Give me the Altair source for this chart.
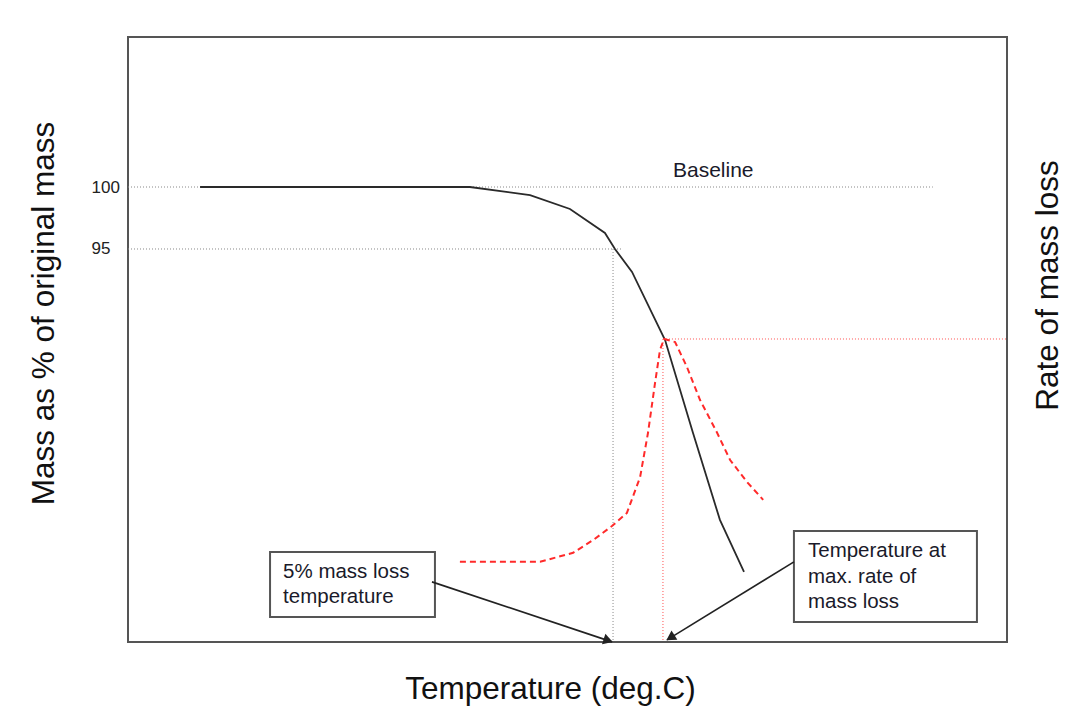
import altair as alt
import pandas as pd

FONT = "Liberation Sans"

# ---- data (temperature units are arbitrary, 0..500 across the frame) ----
mass_T = [41.0, 190.0, 194.5, 228.7, 251.4, 271.3, 277.0, 286.7, 305.5, 321.4, 336.7, 350.4]
mass_pct = [100.0, 100.0, 100.0, 99.35, 98.23, 96.29, 95.0, 93.15, 87.66, 80.16, 73.15, 68.95]

rate_T = [188.8, 234.4, 253.2, 264.5, 275.3, 283.8, 291.3, 295.8, 299.8, 302.6, 304.9,
          311.2, 318.0, 325.4, 335.1, 342.5, 352.2, 361.3]
rate_val = [1.59, 1.59, 1.77, 2.02, 2.30, 2.56, 3.27, 4.15, 5.14, 5.79, 6.01,
            5.95, 5.45, 4.80, 4.15, 3.61, 3.17, 2.82]

# dotted guide lines on the mass scale: (x, x2, y, y2)
guide_x = [0.0, 0.0, 275.9]
guide_x2 = [457.8, 281.0, 275.9]
guide_y = [100.0, 95.0, 95.0]
guide_y2 = [100.0, 95.0, 63.3]

# red dotted guide lines on the rate scale
rguide_x = [304.3, 304.3]
rguide_x2 = [500.0, 304.3]
rguide_y = [6.01, 6.01]
rguide_y2 = [6.01, 0.0]

# annotation boxes (mass scale)
box_x = [80.8, 378.8]
box_x2 = [174.6, 482.9]
box_y = [70.56, 72.26]
box_y2 = [65.32, 64.92]

# annotation text lines
box_lines = ["5% mass loss", "temperature", "Temperature at", "max. rate of", "mass loss"]
box_text_x = [88.2, 88.2, 386.8, 386.8, 386.8]
box_text_y = [68.47, 66.45, 70.16, 68.06, 66.05]
baseline_label = ["Baseline"]
baseline_x = [310.0]
baseline_y = [100.81]

# arrows
arrow_x = [172.9, 378.8]
arrow_x2 = [275.3, 306.6]
arrow_y = [68.15, 69.76]
arrow_y2 = [63.31, 63.47]
head_x = [272.3, 309.3]
head_y = [63.46, 63.72]
head_angle = [108, 238]

X_DOM = [0, 500]
M_DOM = [63.3, 112.1]
R_DOM = [0, 12]

x_axis = alt.Axis(labels=False, ticks=False, domain=False, grid=False,
                  title="Temperature (deg.C)", titleFont=FONT, titleFontSize=31.5,
                  titleFontWeight="normal", titleColor="#111",
                  titleX=422, titleY=56, titleAlign="center", titleBaseline="alphabetic")
m_axis = alt.Axis(values=[95, 100], ticks=False, tickSize=0, domain=False, grid=False,
                  labelFont=FONT, labelFontSize=17, labelColor="#222",
                  labelAlign="left", labelPadding=37, labelBaseline="middle",
                  title="Mass as % of original mass", titleFont=FONT, titleFontSize=31.5,
                  titleFontWeight="normal", titleColor="#111", titleAngle=270,
                  titleX=-75, titleY=276, titleAlign="center", titleBaseline="alphabetic")
r_axis = alt.Axis(orient="right", labels=False, ticks=False, domain=False, grid=False,
                  title="Rate of mass loss", titleFont=FONT, titleFontSize=31.5,
                  titleFontWeight="normal", titleColor="#111", titleAngle=270,
                  titleX=50, titleY=248, titleAlign="center", titleBaseline="alphabetic")

X = lambda f="x": alt.X(f"{f}:Q", scale=alt.Scale(domain=X_DOM, nice=False, zero=False), axis=x_axis)
YM = lambda f="y": alt.Y(f"{f}:Q", scale=alt.Scale(domain=M_DOM, nice=False, zero=False), axis=m_axis)
YR = lambda f="y": alt.Y(f"{f}:Q", scale=alt.Scale(domain=R_DOM, nice=False, zero=False), axis=r_axis)

guides = pd.DataFrame({"x": guide_x, "x2": guide_x2, "y": guide_y, "y2": guide_y2})
rguides = pd.DataFrame({"x": rguide_x, "x2": rguide_x2, "y": rguide_y, "y2": rguide_y2})
mass = pd.DataFrame({"x": mass_T, "y": mass_pct})
rate = pd.DataFrame({"x": rate_T, "y": rate_val})
boxes = pd.DataFrame({"x": box_x, "x2": box_x2, "y": box_y, "y2": box_y2})
box_texts = pd.DataFrame({"x": box_text_x, "y": box_text_y, "t": box_lines})
base_text = pd.DataFrame({"x": baseline_x, "y": baseline_y, "t": baseline_label})
arrows = pd.DataFrame({"x": arrow_x, "x2": arrow_x2, "y": arrow_y, "y2": arrow_y2})
heads = pd.DataFrame({"x": head_x, "y": head_y, "a": head_angle})

guide_layer = alt.Chart(guides).mark_rule(color="#888", strokeWidth=1, strokeDash=[1, 2]).encode(
    x=X(), x2="x2:Q", y=YM(), y2="y2:Q")
mass_layer = alt.Chart(mass).mark_line(color="#2a2a2a", strokeWidth=1.8).encode(x=X(), y=YM())
box_layer = alt.Chart(boxes).mark_rect(fill="white", stroke="#555", strokeWidth=2).encode(
    x=X(), x2="x2:Q", y=YM(), y2="y2:Q")
text_layer = alt.Chart(box_texts).mark_text(font=FONT, fontSize=20.5, align="left", baseline="alphabetic",
                                            color="#1a1a2a").encode(x=X(), y=YM(), text="t:N")
base_layer = alt.Chart(base_text).mark_text(font=FONT, fontSize=21, align="left", baseline="alphabetic",
                                            color="#1a1a2a").encode(x=X(), y=YM(), text="t:N")
arrow_layer = alt.Chart(arrows).mark_rule(color="#222", strokeWidth=1.6).encode(
    x=X(), x2="x2:Q", y=YM(), y2="y2:Q")
head_layer = alt.Chart(heads).mark_point(shape="triangle", filled=True, size=120, color="#222", opacity=1).encode(
    x=X(), y=YM(), angle=alt.Angle("a:Q", scale=None))

mass_group = alt.layer(guide_layer, mass_layer, box_layer, text_layer, base_layer, arrow_layer, head_layer)

rguide_layer = alt.Chart(rguides).mark_rule(color="#ff5050", strokeWidth=1, strokeDash=[1, 2]).encode(
    x=X(), x2="x2:Q", y=YR(), y2="y2:Q")
rate_layer = alt.Chart(rate).mark_line(color="#ff2a2a", strokeWidth=2, strokeDash=[6, 4]).encode(
    x=X(), y=YR())
rate_group = alt.layer(rguide_layer, rate_layer)

chart = alt.layer(mass_group, rate_group).resolve_scale(y="independent").resolve_axis(y="independent").properties(
    width=879, height=605,
    autosize=alt.AutoSizeParams(type="none"),
    padding={"left": 120, "top": 29, "right": 59, "bottom": 73},
    background="white",
).configure_view(stroke="#555", strokeWidth=2)

chart.save("out.html", embed_options={"renderer": "svg", "actions": False})
